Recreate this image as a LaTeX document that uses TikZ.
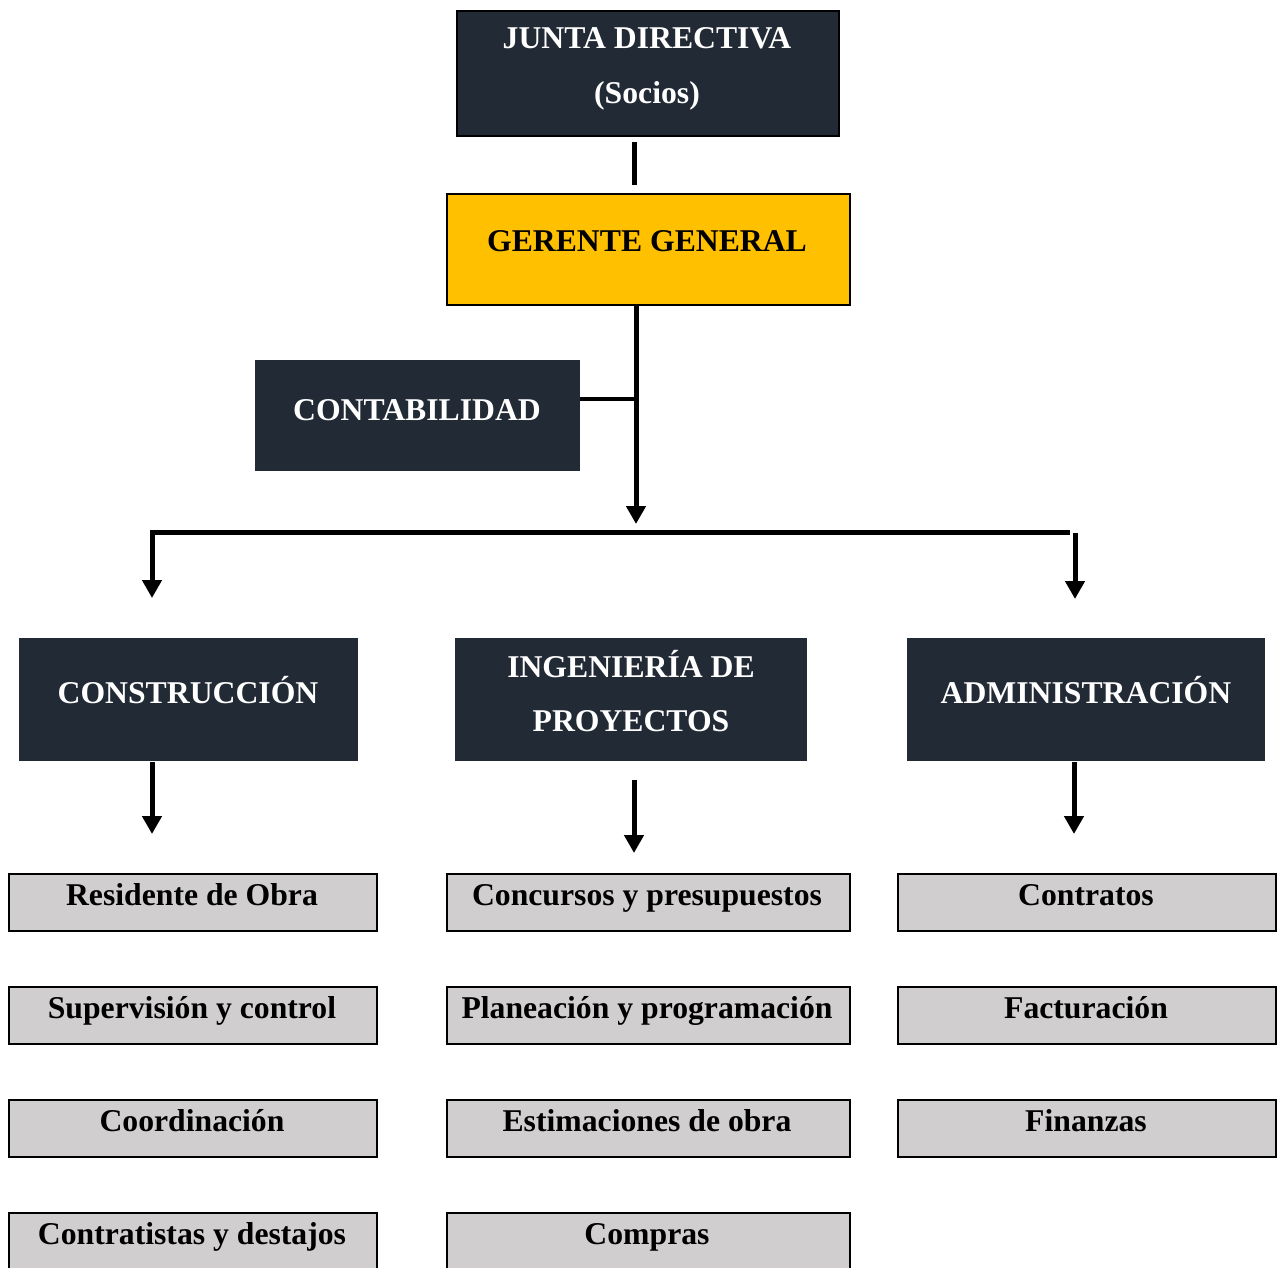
\documentclass[tikz,border=0pt]{standalone}
\usepackage{fontspec}
\setmainfont{Liberation Serif}
\usetikzlibrary{arrows.meta}
\definecolor{navy}{HTML}{222A35}
\definecolor{gold}{HTML}{FFC000}
\definecolor{greybox}{HTML}{D0CECE}
\begin{document}
\begin{tikzpicture}[x=1pt,y=-1pt,
  box/.style={draw=black, line width=1.5pt, inner sep=0pt, anchor=north west},
  darkbox/.style={box, fill=navy},
  darkfree/.style={inner sep=0pt, anchor=north west, fill=navy},
  goldbox/.style={box, fill=gold},
  greyb/.style={box, fill=greybox},
  wtxt/.style={anchor=base, text=white, font=\fontsize{31.7}{38}\selectfont\bfseries, inner sep=0pt},
  btxt/.style={anchor=base, text=black, font=\fontsize{31.7}{38}\selectfont\bfseries, inner sep=0pt},
  conn/.style={line width=5pt, draw=black},
  arr/.style={conn, -{Triangle[length=18pt,width=19pt]}}
]
\useasboundingbox (0,0) rectangle (1277,1267);
% top boxes
\node[darkbox, minimum width=382pt, minimum height=125pt] (junta) at (456,10) {};
\node[wtxt] (juntat1) at (647,48) {JUNTA DIRECTIVA};
\node[wtxt] (juntat2) at (647,103) {(Socios)};
\node[goldbox, minimum width=403pt, minimum height=111pt] (ger) at (446,193) {};
\node[btxt] (gert) at (647,251) {GERENTE GENERAL};
\node[darkfree, minimum width=325pt, minimum height=111pt] (cont) at (255,360) {};
\node[wtxt] (contt) at (417,420) {CONTABILIDAD};
% second level
\node[darkfree, minimum width=339pt, minimum height=123pt] (cons) at (19,638) {};
\node[wtxt] (const) at (188,703) {CONSTRUCCIÓN};
\node[darkfree, minimum width=352pt, minimum height=123pt] (ing) at (455,638) {};
\node[wtxt] (ingt1) at (631,677) {INGENIERÍA DE};
\node[wtxt] (ingt2) at (631,731) {PROYECTOS};
\node[darkfree, minimum width=358pt, minimum height=123pt] (adm) at (907,638) {};
\node[wtxt] (admt) at (1086,703) {ADMINISTRACIÓN};
% grey boxes column 1
\node[greyb, minimum width=368pt, minimum height=57pt] (c1) at (8,873) {};
\node[btxt] at (192,905) {Residente de Obra};
\node[greyb, minimum width=368pt, minimum height=57pt] (c2) at (8,986) {};
\node[btxt] at (192,1018) {Supervisión y control};
\node[greyb, minimum width=368pt, minimum height=57pt] (c3) at (8,1099) {};
\node[btxt] at (192,1131) {Coordinación};
\node[greyb, minimum width=368pt, minimum height=60pt] (c4) at (8,1212) {};
\node[btxt] at (192,1244) {Contratistas y destajos};
% column 2
\node[greyb, minimum width=403pt, minimum height=57pt] (i1) at (446,873) {};
\node[btxt] at (647,905) {Concursos y presupuestos};
\node[greyb, minimum width=403pt, minimum height=57pt] (i2) at (446,986) {};
\node[btxt] at (647,1018) {Planeación y programación};
\node[greyb, minimum width=403pt, minimum height=57pt] (i3) at (446,1099) {};
\node[btxt] at (647,1131) {Estimaciones de obra};
\node[greyb, minimum width=403pt, minimum height=60pt] (i4) at (446,1212) {};
\node[btxt] at (647,1244) {Compras};
% column 3
\node[greyb, minimum width=378pt, minimum height=57pt] (a1) at (897,873) {};
\node[btxt] at (1086,905) {Contratos};
\node[greyb, minimum width=378pt, minimum height=57pt] (a2) at (897,986) {};
\node[btxt] at (1086,1018) {Facturación};
\node[greyb, minimum width=378pt, minimum height=57pt] (a3) at (897,1099) {};
\node[btxt] at (1086,1131) {Finanzas};
% coordinates
\coordinate (jg1) at (634,142);
\coordinate (jg2) at (634,185);
\coordinate (g1) at (636,306);
\coordinate (g2) at (636,524);
\coordinate (cj) at (636,399);
\coordinate (bl) at (152,532);
\coordinate (br) at (1070,532);
\coordinate (lt) at (152,598);
\coordinate (rs) at (1075,533);
\coordinate (rt) at (1075,599);
\coordinate (cs1) at (152,762);
\coordinate (cs2) at (152,834);
\coordinate (is1) at (634,780);
\coordinate (is2) at (634,853);
\coordinate (as1) at (1074,762);
\coordinate (as2) at (1074,834);
% connectors
\draw[conn] (jg1) -- (jg2);
\draw[arr] (g1) -- (g2);
\draw[conn, line width=4pt] (cont.east |- cj) -- (cj);
\draw[arr, line join=miter] (br) -- (bl) -- (lt);
\draw[arr] (rs) -- (rt);
\draw[arr] (cs1) -- (cs2);
\draw[arr] (is1) -- (is2);
\draw[arr] (as1) -- (as2);
\end{tikzpicture}
\end{document}
